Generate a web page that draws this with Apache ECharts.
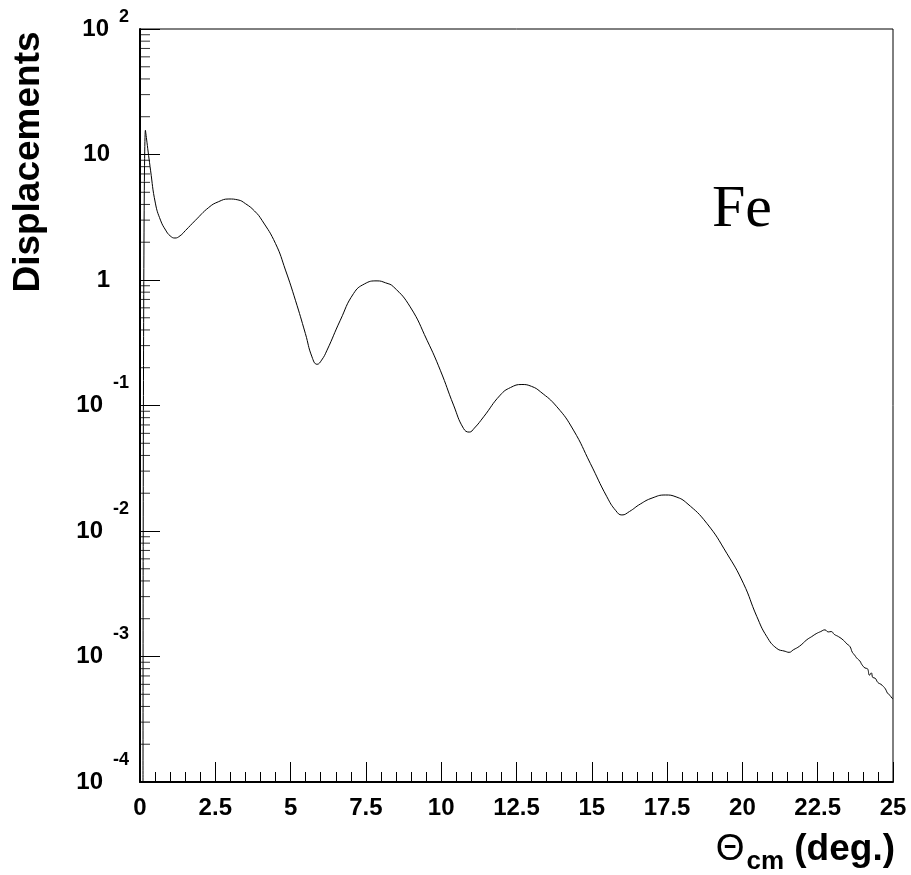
<!DOCTYPE html>
<html><head><meta charset="utf-8">
<script src="https://cdn.jsdelivr.net/npm/echarts@6/dist/echarts.min.js"></script>
<style>html,body{margin:0;padding:0;background:#fff}#c{width:911px;height:875px}</style>
</head><body><div id="c"></div>
<script>
const thetaDeg = [0.10,0.18,0.35,0.51,0.68,0.85,1.00,1.16,1.33,1.51,1.84,2.28,2.60,2.95,3.25,3.50,3.80,4.05,4.50,4.83,5.16,5.49,5.71,5.88,6.03,6.21,6.65,7.09,7.45,7.87,8.15,8.42,8.97,9.53,9.97,10.41,10.74,10.93,11.10,11.41,11.96,12.30,12.68,13.00,13.29,13.84,14.39,14.95,15.50,15.80,16.00,16.25,16.61,17.00,17.44,17.80,18.16,18.82,19.48,20.03,20.48,20.81,21.14,21.42,21.55,21.69,21.90,22.14,22.30,22.45,22.60,22.74,22.85,22.95,23.05,23.19,23.35,23.47,23.57,23.65,23.72,23.80,23.90,23.97,24.07,24.15,24.22,24.28,24.33,24.40,24.50,24.60,24.68,24.75,24.82,24.90,24.96,25.00];
const displacement = [0.0001,15.6,7.5,4.1,3.0,2.5,2.25,2.16,2.25,2.48,2.99,3.78,4.2,4.42,4.35,4.06,3.55,2.99,1.95,1.20,0.69,0.375,0.244,0.213,0.23,0.276,0.478,0.78,0.93,0.984,0.95,0.881,0.611,0.331,0.191,0.1007,0.0657,0.0614,0.066,0.0813,0.121,0.139,0.147,0.142,0.129,0.0977,0.0637,0.0346,0.01875,0.0145,0.01342,0.0143,0.0164,0.0183,0.01936,0.0187,0.01663,0.0115,0.00665,0.00384,0.00208,0.00144,0.00116,0.00110,0.00108,0.00113,0.00121,0.00136,0.00144,0.00152,0.00158,0.00163,0.00157,0.00158,0.00150,0.00144,0.00135,0.00126,0.00120,0.00108,0.00103,0.00097,0.00092,0.00086,0.00081,0.00080,0.00071,0.00074,0.00068,0.000673,0.00062,0.00060,0.000577,0.00055,0.00051,0.00049,0.000467,0.00046];
const xTickLabels = ['0','2.5','5','7.5','10','12.5','15','17.5','20','22.5','25'];
const yDecadeExponents = [-4,-3,-2,-1,0,1,2];
const yMinorFactors = [2,3,4,5,6,7,8,9];
const xTitle = ['\u0398','cm',' (deg.)'];
const yTitle = 'Displacements';
const plotLabel = 'Fe';

const FONT = '"Liberation Sans", Arial, Helvetica, sans-serif';
const lineData = thetaDeg.map((t, i) => [t, displacement[i]]);
const minorTickData = [];
yDecadeExponents.slice(0, -1).forEach(e => yMinorFactors.forEach(f => minorTickData.push([0, f * Math.pow(10, e)])));

const chart = echarts.init(document.getElementById('c'), null, {renderer: 'canvas'});
chart.setOption({
  animation: false,
  backgroundColor: '#fff',
  grid: {left: 140, right: 18, top: 29, bottom: 93, show: true, borderColor: '#000', borderWidth: 1, backgroundColor: 'transparent'},
  xAxis: {
    type: 'value', min: 0, max: 25, interval: 2.5,
    axisLine: {show: true, lineStyle: {color: '#000', width: 2}},
    axisTick: {show: true, inside: true, length: 20, lineStyle: {color: '#000', width: 1}},
    minorTick: {show: true, splitNumber: 5, length: 10, lineStyle: {color: '#000', width: 1}},
    splitLine: {show: false},
    axisLabel: {
      margin: 14, color: '#000', fontFamily: FONT, fontWeight: 'bold', fontSize: 24,
      formatter: v => { const i = Math.round(v / 2.5); return xTickLabels[i] !== undefined ? xTickLabels[i] : ''; }
    }
  },
  yAxis: {
    type: 'log', logBase: 10, min: 1e-4, max: 100, splitNumber: 6,
    axisLine: {show: true, lineStyle: {color: '#000', width: 2}},
    axisTick: {show: true, inside: true, length: 20, lineStyle: {color: '#000', width: 1}},
    splitLine: {show: false},
    axisLabel: {
      margin: 11, color: '#000', fontFamily: FONT, fontWeight: 'bold', fontSize: 24,
      formatter: v => {
        const e = Math.round(Math.log10(v));
        if (yDecadeExponents.indexOf(e) < 0) return '';
        if (e === 0) return '{p|1}';
        if (e === 1) return '{p|10}';
        if (e === 2) return '{b|10}{t|' + e + '}';
        return '{b|10}{s|' + e + '}';
      },
      rich: {
        b: {fontFamily: FONT, fontWeight: 'bold', fontSize: 24, color: '#000'},
        p: {fontFamily: FONT, fontWeight: 'bold', fontSize: 24, color: '#000', padding: [0, 19, 0, 0]},
        s: {fontFamily: FONT, fontWeight: 'bold', fontSize: 18, color: '#000', padding: [0, 0, 44, 10]},
        t: {fontFamily: FONT, fontWeight: 'bold', fontSize: 18, color: '#000', padding: [0, 0, 24, 10]}
      }
    }
  },
  series: [
    {
      type: 'line', data: lineData, showSymbol: false, symbol: 'none',
      smooth: 0.5,
      lineStyle: {color: '#000', width: 1}, clip: true, silent: true
    },
    {
      type: 'scatter', data: minorTickData, symbol: 'rect', symbolSize: [10, 1], symbolOffset: [5, 0],
      itemStyle: {color: '#000'}, silent: true, z: 5
    }
  ],
  graphic: [
    {type: 'text', x: 29, y: 162, rotation: Math.PI / 2,
     style: {text: yTitle, font: 'bold 37px ' + FONT, fill: '#000', align: 'center', verticalAlign: 'middle'}},
    {type: 'text', x: 895, y: 850,
     style: {text: '{t|' + xTitle[0] + '}{c|' + xTitle[1] + '}{d|' + xTitle[2] + '}', align: 'right', verticalAlign: 'middle',
       rich: {
         t: {font: '37px ' + FONT, fill: '#000'},
         c: {font: 'bold 26px ' + FONT, fill: '#000', padding: [24, 0, 0, 2]},
         d: {font: 'bold 37px ' + FONT, fill: '#000'}
       }}},
    {type: 'text', x: 712, y: 210,
     style: {text: plotLabel, font: '60px "Liberation Serif", "Times New Roman", serif', fill: '#000', align: 'left', verticalAlign: 'middle'}}
  ]
});
</script></body></html>
